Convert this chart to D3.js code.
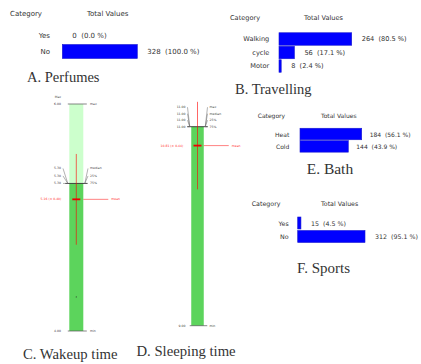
<!DOCTYPE html>
<html><head><meta charset="utf-8">
<script src="https://cdn.jsdelivr.net/npm/d3@7"></script>
<style>body{margin:0;background:#fff}svg{display:block}text{white-space:pre}</style>
</head><body><svg id="chart" width="421" height="364"></svg>
<script>
// Category counts and percentage labels
const perfumeCategories = ["Yes", "No"];
const perfumeValues = [0, 328];
const perfumePercents = [0.0, 100.0];
const travelCategories = ["Walking", "cycle", "Motor"];
const travelValues = [264, 56, 8];
const travelPercents = [80.5, 17.1, 2.4];
const bathCategories = ["Heat", "Cold"];
const bathValues = [184, 144];
const bathPercents = [56.1, 43.9];
const sportCategories = ["Yes", "No"];
const sportValues = [15, 312];
const sportPercents = [4.5, 95.1];
const headerLabels = ["Category", "Total Values"];

// Time summaries (hours)
const wakeRange = [4.00, 6.00];              // min, max
const wakeQuartileNames = ["75%", "25%", "median"];
const wakeQuartileValues = [5.30, 5.30, 5.30];
const wakeMeanSd = [5.16, 0.40];
const wakeOutliers = [4.30];
const sleepRange = [9.00, 11.00];            // min, max
const sleepQuartileNames = ["75%", "25%", "median", "max"];
const sleepQuartileValues = [11.00, 11.00, 11.00, 11.00];
const sleepMeanSd = [10.81, 0.44];

const svg = d3.select("#chart");
const SANS = "'DejaVu Sans', Verdana, sans-serif";
const SERIF = "'Liberation Serif', 'Times New Roman', serif";

function barPanel(cfg, cats, vals, pcts, title) {
  const g = svg.append("g");
  g.append("text").attr("x", cfg.catX).attr("y", cfg.headY)
    .attr("dominant-baseline", "central").attr("font-family", SANS)
    .attr("font-size", cfg.fs).attr("fill", "#333").text(headerLabels[0]);
  g.append("text").attr("x", cfg.totX).attr("y", cfg.headY)
    .attr("dominant-baseline", "central").attr("font-family", SANS)
    .attr("font-size", cfg.fs).attr("fill", "#333").text(headerLabels[1]);

  const y = d3.scaleBand().domain(cats)
    .range([cfg.firstY - cfg.step / 2, cfg.firstY - cfg.step / 2 + cfg.step * cats.length]);
  const x = d3.scaleLinear().domain([0, d3.max(vals)]).range([cfg.barX, cfg.barX + cfg.barW]);
  const rows = cats.map((c, i) => ({ c, v: vals[i], p: pcts[i] }));

  g.selectAll("text.cat").data(rows).join("text").attr("class", "cat")
    .attr("x", cfg.labelR).attr("y", d => y(d.c) + y.bandwidth() / 2)
    .attr("text-anchor", "end").attr("dominant-baseline", "central")
    .attr("font-family", SANS).attr("font-size", cfg.fs).attr("fill", "#333")
    .text(d => d.c);

  g.selectAll("rect").data(rows.filter(d => d.v > 0)).join("rect")
    .attr("x", x(0)).attr("y", d => y(d.c) + (y.bandwidth() - cfg.barH) / 2)
    .attr("width", d => x(d.v) - x(0)).attr("height", cfg.barH)
    .attr("fill", "#0000ff").attr("stroke", "#1a1ad0").attr("stroke-width", 0.6);

  g.selectAll("text.val").data(rows).join("text").attr("class", "val")
    .attr("x", d => x(d.v) + cfg.gap).attr("y", d => y(d.c) + y.bandwidth() / 2)
    .attr("dominant-baseline", "central").attr("font-family", SANS)
    .attr("font-size", cfg.fs).attr("fill", "#333")
    .text(d => `${d.v}  (${d.p.toFixed(1)} %)`);

  g.append("text").attr("x", cfg.titleX).attr("y", cfg.titleY)
    .attr("font-family", SERIF).attr("font-size", cfg.titleFs).attr("fill", "#333")
    .text(title);
}

barPanel({ catX: 10, totX: 87, headY: 14, fs: 7, firstY: 36, step: 15.5, barH: 14,
  labelR: 50, barX: 62.3, barW: 75, gap: 10, titleX: 27, titleY: 82.3, titleFs: 14.5 },
  perfumeCategories, perfumeValues, perfumePercents, "A. Perfumes");
barPanel({ catX: 230, totX: 304, headY: 18, fs: 6.6, firstY: 39, step: 13.5, barH: 12.5,
  labelR: 269.3, barX: 279, barW: 72.7, gap: 10, titleX: 235, titleY: 94, titleFs: 14.5 },
  travelCategories, travelValues, travelPercents, "B. Travelling");
barPanel({ catX: 257.7, totX: 321, headY: 115, fs: 6, firstY: 134, step: 12.4, barH: 11.5,
  labelR: 289.3, barX: 300, barW: 61.7, gap: 8, titleX: 306.7, titleY: 174.3, titleFs: 15.5 },
  bathCategories, bathValues, bathPercents, "E. Bath");
barPanel({ catX: 251.7, totX: 321, headY: 203, fs: 6.3, firstY: 223, step: 13.5, barH: 12,
  labelR: 288.7, barX: 297.7, barW: 67.3, gap: 10, titleX: 297, titleY: 273.3, titleFs: 15 },
  sportCategories, sportValues, sportPercents, "F. Sports");

// Range column with stacked quartile labels and mean ± sd marker
function rangePanel(cfg, range, qNames, qValues, meanSd, outliers, title) {
  const g = svg.append("g");
  const y = d3.scaleLinear().domain(range).range([cfg.bottom, cfg.top]);
  const L = cfg.cx - cfg.w / 2, R = cfg.cx + cfg.w / 2;
  const q = qValues[0];
  const tiny = 3.1;

  // light column from the max down to the upper quartile, solid below it
  g.append("rect").attr("x", L).attr("y", y(range[1])).attr("width", cfg.w)
    .attr("height", y(q) - y(range[1])).attr("fill", "#ccffcc");
  g.append("rect").attr("x", L).attr("y", y(q)).attr("width", cfg.w)
    .attr("height", y(range[0]) - y(q)).attr("fill", "#5cd45c");

  // min / max ticks
  [[range[0], "min"], [range[1], "max"]].forEach(([v, name]) => {
    if (cfg.hideMax && name === "max") return;
    g.append("line").attr("x1", L - 1.5).attr("x2", R + 3.5).attr("y1", y(v)).attr("y2", y(v))
      .attr("stroke", "#555").attr("stroke-width", 0.7);
    g.append("text").attr("x", cfg.leftR).attr("y", y(v)).attr("text-anchor", "end")
      .attr("dominant-baseline", "central").attr("font-family", SANS).attr("font-size", tiny)
      .attr("fill", "#444").text(v.toFixed(2));
    g.append("text").attr("x", cfg.rightL).attr("y", y(v))
      .attr("dominant-baseline", "central").attr("font-family", SANS).attr("font-size", tiny)
      .attr("fill", "#444").text(name);
  });
  if (cfg.axisLabel) {
    g.append("text").attr("x", cfg.leftR - 3).attr("y", y(range[1]) - 7).attr("text-anchor", "middle")
      .attr("dominant-baseline", "central").attr("font-family", SANS).attr("font-size", tiny)
      .attr("fill", "#444").text(cfg.axisLabel);
  }

  // quartile line with fanned-out labels
  g.append("line").attr("x1", L - 4).attr("x2", R + 4).attr("y1", y(q)).attr("y2", y(q))
    .attr("stroke", "#333").attr("stroke-width", 0.9);
  qNames.forEach((name, i) => {
    const ly = y(qValues[i]) - i * cfg.labelStep;
    g.append("text").attr("x", cfg.leftR).attr("y", ly).attr("text-anchor", "end")
      .attr("dominant-baseline", "central").attr("font-family", SANS).attr("font-size", tiny)
      .attr("fill", "#444").text(qValues[i].toFixed(2));
    g.append("text").attr("x", cfg.rightL).attr("y", ly)
      .attr("dominant-baseline", "central").attr("font-family", SANS).attr("font-size", tiny)
      .attr("fill", "#444").text(name);
    g.append("path").attr("d", `M${cfg.leftR + 2},${ly}L${L - 1.5},${y(qValues[i])}`)
      .attr("stroke", "#666").attr("stroke-width", 0.5).attr("fill", "none");
    g.append("path").attr("d", `M${cfg.rightL - 2},${ly}L${R + 1.5},${y(qValues[i])}`)
      .attr("stroke", "#666").attr("stroke-width", 0.5).attr("fill", "none");
  });

  // mean ± sd
  const [m, sd] = meanSd;
  g.append("line").attr("x1", cfg.cx).attr("x2", cfg.cx).attr("y1", y(m + sd)).attr("y2", y(m - sd))
    .attr("stroke", "#ff0000").attr("stroke-opacity", 0.6).attr("stroke-width", 1);
  g.append("line").attr("x1", cfg.cx - 4).attr("x2", cfg.cx + 4).attr("y1", y(m)).attr("y2", y(m))
    .attr("stroke", "#ee0000").attr("stroke-width", 1.8);
  g.append("line").attr("x1", R).attr("x2", R + 25).attr("y1", y(m)).attr("y2", y(m))
    .attr("stroke", "#ff0000").attr("stroke-opacity", 0.7).attr("stroke-width", 0.7);
  g.append("text").attr("x", R + 28).attr("y", y(m)).attr("dominant-baseline", "central")
    .attr("font-family", SANS).attr("font-size", tiny).attr("fill", "#ff3333").text("mean");
  g.append("text").attr("x", L - 8).attr("y", y(m)).attr("text-anchor", "end")
    .attr("dominant-baseline", "central").attr("font-family", SANS).attr("font-size", tiny)
    .attr("fill", "#ff3333").text(`${m.toFixed(2)} (± ${sd.toFixed(2)})`);

  g.selectAll("circle").data(outliers).join("circle")
    .attr("cx", cfg.cx).attr("cy", d => y(d)).attr("r", 0.6).attr("fill", "#335533");

  g.append("text").attr("x", cfg.titleX).attr("y", cfg.titleY)
    .attr("font-family", SERIF).attr("font-size", 14.7).attr("fill", "#333").text(title);
}

rangePanel({ cx: 76.3, w: 14, top: 104, bottom: 331, leftR: 61, rightL: 90, labelStep: 7.5,
  axisLabel: "Max", titleX: 23, titleY: 359 },
  wakeRange, wakeQuartileNames, wakeQuartileValues, wakeMeanSd, wakeOutliers, "C. Wakeup time");
rangePanel({ cx: 197.5, w: 12.5, top: 126.7, bottom: 325.7, leftR: 185.5, rightL: 209.5, labelStep: 6.5,
  hideMax: true, titleX: 136.5, titleY: 356 },
  sleepRange, sleepQuartileNames, sleepQuartileValues, sleepMeanSd, [], "D. Sleeping time");
</script>
</body></html>
